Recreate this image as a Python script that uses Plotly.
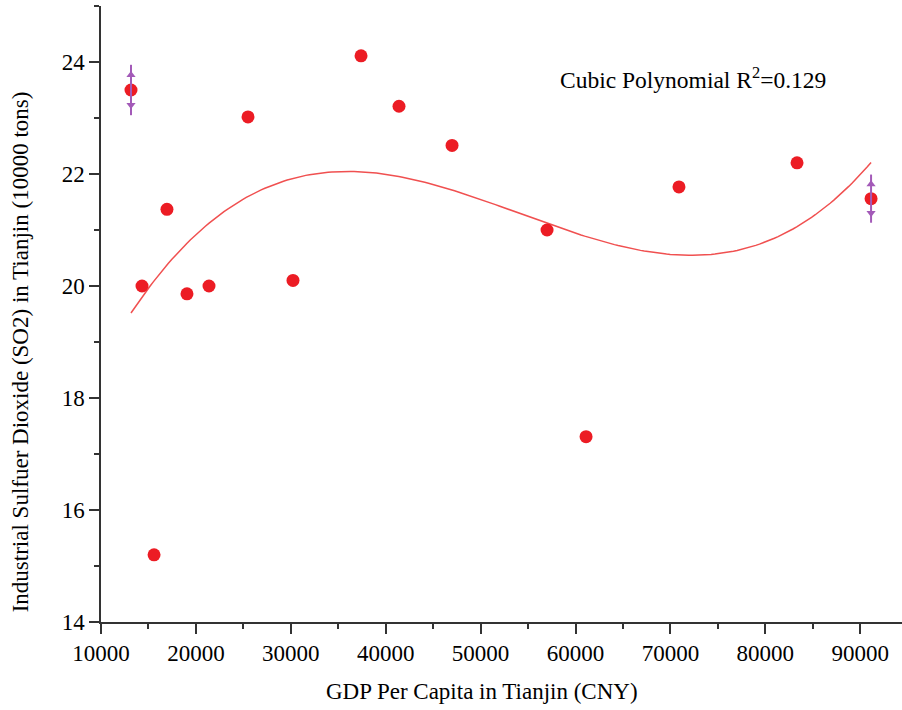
import numpy as np
import plotly.graph_objects as go

gdp = [13160, 14320, 15590, 16950, 19060, 21380, 25490, 30230, 37400,
       41400, 46990, 57000, 61110, 70900, 83340, 91140]
so2 = [23.50, 20.00, 15.20, 21.37, 19.86, 20.00, 23.02, 20.10, 24.11,
       23.21, 22.51, 21.00, 17.31, 21.77, 22.20, 21.56]

# error bars (shown only on first and last points)
err_x = [13160, 91140]
err_y = [23.50, 21.56]
err_v = [0.45, 0.43]

x_ticks = [10000, 20000, 30000, 40000, 50000, 60000, 70000, 80000, 90000]
y_ticks = [14, 16, 18, 20, 22, 24]

annotation_text = "Cubic Polynomial R<sup>2</sup>=0.129"
x_title = "GDP Per Capita in Tianjin (CNY)"
y_title = "Industrial Sulfuer Dioxide (SO2) in Tianjin (10000 tons)"

coef = np.polyfit(gdp, so2, 3)
xf = np.linspace(min(gdp), max(gdp), 200)
yf = np.polyval(coef, xf)

font = "Liberation Serif, Times New Roman, serif"
red = "#ec1c24"
purple = "#a35ab8"

fig = go.Figure()
fig.add_trace(go.Scatter(x=xf, y=yf, mode="lines",
                         line=dict(color="#f05050", width=1.5),
                         hoverinfo="skip", showlegend=False))
fig.add_trace(go.Scatter(x=gdp, y=so2, mode="markers",
                         marker=dict(color=red, size=13, line=dict(width=0)),
                         showlegend=False))
fig.add_trace(go.Scatter(x=err_x, y=err_y, mode="markers",
                         marker=dict(color="rgba(0,0,0,0)", size=1),
                         error_y=dict(type="data", array=err_v, visible=True,
                                      color=purple, thickness=2, width=0),
                         showlegend=False))
up_y = [y + e * 0.6 for y, e in zip(err_y, err_v)]
dn_y = [y - e * 0.6 for y, e in zip(err_y, err_v)]
fig.add_trace(go.Scatter(x=err_x, y=up_y, mode="markers",
                         marker=dict(symbol="triangle-up", color=purple, size=8),
                         showlegend=False))
fig.add_trace(go.Scatter(x=err_x, y=dn_y, mode="markers",
                         marker=dict(symbol="triangle-down", color=purple, size=8),
                         showlegend=False))

fig.add_annotation(x=0.5705, y=0.883, xref="paper", yref="paper",
                   xanchor="left", yanchor="middle", showarrow=False,
                   text=annotation_text,
                   font=dict(family=font, size=23.5, color="black"))
fig.add_annotation(x=0.4757, y=-0.1136, xref="paper", yref="paper",
                   xanchor="center", yanchor="middle", showarrow=False,
                   text=x_title, font=dict(family=font, size=23, color="black"))
fig.add_annotation(x=-0.101, y=0.438, xref="paper", yref="paper",
                   xanchor="center", yanchor="middle", showarrow=False,
                   textangle=-90,
                   text=y_title, font=dict(family=font, size=23, color="black"))

fig.update_layout(
    width=902, height=710,
    margin=dict(l=101, r=0, t=6, b=88),
    paper_bgcolor="white", plot_bgcolor="white",
    font=dict(family=font, color="black"),
    xaxis=dict(range=[10000, 94400], tickvals=x_ticks,
               ticktext=[str(v) for v in x_ticks],
               ticks="outside", ticklen=10, tickwidth=1.5, tickcolor="#333",
               showline=True, linecolor="#333", linewidth=1.5,
               showgrid=False, zeroline=False,
               minor=dict(dtick=5000, tick0=5000, ticks="outside", ticklen=5,
                          tickwidth=1.5, tickcolor="#333", showgrid=False),
               tickfont=dict(size=23, family=font)),
    yaxis=dict(range=[14, 25], tickvals=y_ticks,
               ticktext=[str(v) for v in y_ticks],
               ticks="outside", ticklen=10, tickwidth=1.5, tickcolor="#333",
               showline=True, linecolor="#333", linewidth=1.5,
               showgrid=False, zeroline=False,
               minor=dict(dtick=1, ticks="outside", ticklen=5,
                          tickwidth=1.5, tickcolor="#333", showgrid=False),
               tickfont=dict(size=23, family=font)),
)

fig.write_html("out.html")
